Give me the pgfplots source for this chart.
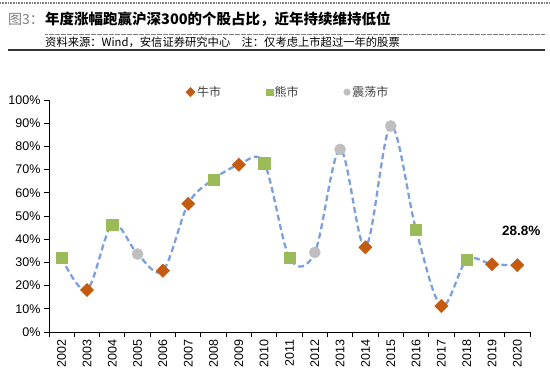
\documentclass[border=0pt]{standalone}
\usepackage{pgfplots}
\pgfplotsset{compat=1.18}
\usepackage{fontspec}
\setmainfont{Liberation Sans}
\newfontfamily\cjk{Noto Sans CJK SC}
\definecolor{bull}{RGB}{197,90,17}
\definecolor{bear}{RGB}{155,187,89}
\definecolor{range}{RGB}{191,191,191}
\definecolor{curve}{RGB}{125,160,220}
\begin{document}
\begin{tikzpicture}
\path[use as bounding box] (0pt,0pt) rectangle (550pt,-377pt);
\draw[gray, line width=2pt, dash pattern=on 0.8pt off 0.8pt] (0pt,-3pt) -- (550pt,-3pt);
\node[anchor=west, inner sep=0pt, text=gray] at (8pt,-19pt) {\cjk\fontsize{14}{16}\selectfont 图3：};
\node[anchor=west, inner sep=0pt] at (45pt,-19pt) {\cjk\bfseries\fontsize{14.5}{16}\selectfont 年度涨幅跑赢沪深300的个股占比，近年持续维持低位};
\draw[gray, line width=0.6pt, dash pattern=on 0.6pt off 0.6pt] (45pt,-34pt) -- (545pt,-34pt);
\node[anchor=west, inner sep=0pt] at (45pt,-42.5pt) {\cjk\fontsize{11.3}{13}\selectfont 资料来源：Wind，安信证券研究中心\quad 注：仅考虑上市超过一年的股票};
\draw[black!80, line width=1.5pt] (8pt,-50pt) -- (545pt,-50pt);
\begin{axis}[
  at={(49pt,-332pt)}, anchor=south west,
  scale only axis, width=481pt, height=232pt,
  xmin=-0.5, xmax=18.5, ymin=0, ymax=100,
  axis x line*=bottom, axis y line*=left,
  axis line style={black, line width=0.9pt},
  xtick={0,...,18},
  xticklabels={2002,2003,2004,2005,2006,2007,2008,2009,2010,2011,2012,2013,2014,2015,2016,2017,2018,2019,2020},
  minor xtick={-0.5,0.5,...,18.5},
  major x tick style={draw=none},
  minor x tick style={black, line width=0.9pt},
  minor tick length=5pt,
  ytick={0,10,...,100},
  yticklabel={\pgfmathprintnumber{\tick}\%},
  major tick length=5pt,
  tick align=outside,
  y tick style={black, line width=0.9pt},
  tick label style={font=\fontsize{12.5}{14}\selectfont},
  xticklabel style={rotate=90, anchor=east, inner sep=2pt},
  /pgf/number format/assume math mode=true,
  clip=false,
  legend style={at={(0.497,1.034)}, anchor=center, draw=none, fill=none,
    legend columns=3, font=\cjk\fontsize{12}{14}\selectfont, text=black!75,
    /tikz/every even column/.append style={column sep=43pt}},
  legend image code/.code={\draw[#1, mark size=3.3pt] plot coordinates {(0.12cm,0cm)};},
]
\addplot[forget plot, smooth, tension=0.55, color=curve, line width=2.3pt, dash pattern=on 6pt off 3.5pt] coordinates {
(0,32.0) (1,18.1) (2,46.4) (3,33.6) (4,26.4) (5,55.3) (6,65.8) (7,72.1) (8,72.8) (9,32.0)
(10,34.3) (11,78.7) (12,36.5) (13,88.8) (14,44.0) (15,11.2) (16,31.0) (17,29.2) (18,28.8)};
\addplot[only marks, mark=square*, mark size=4.7pt, mark options={rotate=45, fill=bull, draw=bull}] coordinates {
(1,18.1) (4,26.4) (5,55.3) (7,72.1) (12,36.5) (15,11.2) (17,29.2) (18,28.8)};
\addlegendentry{牛市}
\addplot[only marks, mark=square*, mark size=5.6pt, mark options={fill=bear, draw=bear}] coordinates {
(0,32.0) (2,46.4) (6,65.8) (8,72.8) (9,32.0) (14,44.0) (16,31.0)};
\addlegendentry{熊市}
\addplot[only marks, mark=*, mark size=5.6pt, mark options={fill=range, draw=range}] coordinates {
(3,33.6) (10,34.3) (11,78.7) (13,88.8)};
\addlegendentry{震荡市}
\node[font=\bfseries\fontsize{13.5}{15}\selectfont] at (axis cs:18.15,43.5) {28.8\%};
\end{axis}
\end{tikzpicture}
\end{document}
